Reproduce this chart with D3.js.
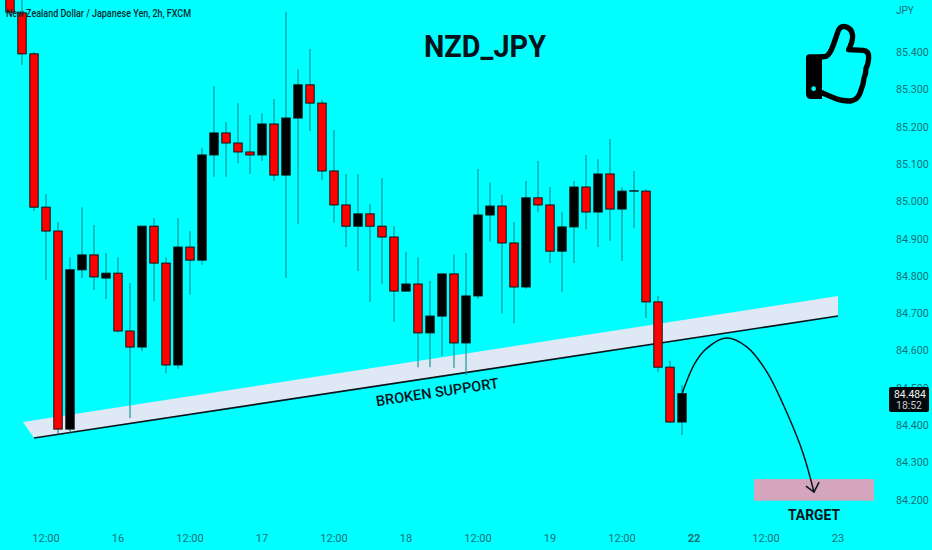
<!DOCTYPE html>
<html><head><meta charset="utf-8">
<script src="https://cdn.jsdelivr.net/npm/d3@7/dist/d3.min.js"></script>
<style>html,body{margin:0;padding:0;background:#00ffff;overflow:hidden}svg{display:block}text{font-family:Roboto,sans-serif}</style>
</head><body><svg id="c" width="932" height="550"></svg>
<script>
const opens=[85.553,85.505,85.395,84.984,84.920,84.389,84.816,84.856,84.794,84.807,84.652,84.609,84.933,84.834,84.561,84.877,84.842,85.124,85.183,85.156,85.132,85.124,85.207,85.070,85.223,85.312,85.263,85.081,84.990,84.933,84.966,84.933,84.904,84.759,84.778,84.647,84.692,84.805,84.620,84.746,84.963,84.987,84.888,84.770,85.009,84.990,84.866,84.931,85.038,84.971,85.073,84.979,85.027,85.027,84.730,84.555,84.408];
const highs=[85.560,85.560,85.400,85.019,84.944,84.850,84.984,84.936,84.861,84.850,84.781,84.933,84.955,84.850,84.955,84.920,85.143,85.309,85.212,85.263,85.231,85.236,85.274,85.507,85.354,85.408,85.271,85.191,85.073,85.073,84.992,85.062,84.933,84.864,84.850,84.786,84.805,84.858,84.861,85.086,85.051,85.017,84.944,85.054,85.108,85.038,84.971,85.054,85.124,85.113,85.167,85.038,85.081,85.033,84.746,84.572,84.507];
const lows=[85.505,85.365,84.974,84.789,84.376,84.379,84.794,84.762,84.738,84.647,84.419,84.598,84.732,84.539,84.550,84.749,84.829,85.065,85.065,85.102,85.073,85.108,85.054,84.794,84.939,85.188,85.057,84.942,84.877,84.813,84.730,84.778,84.676,84.757,84.555,84.555,84.585,84.553,84.534,84.738,84.891,84.698,84.673,84.765,84.971,84.834,84.757,84.834,84.925,84.877,84.893,84.840,84.928,84.687,84.542,84.406,84.373];
const closes=[85.507,85.395,84.984,84.920,84.389,84.816,84.856,84.797,84.807,84.652,84.609,84.933,84.834,84.561,84.877,84.842,85.124,85.183,85.156,85.132,85.124,85.207,85.070,85.223,85.312,85.263,85.081,84.990,84.933,84.966,84.933,84.904,84.759,84.778,84.647,84.692,84.805,84.620,84.746,84.963,84.987,84.888,84.770,85.009,84.990,84.866,84.931,85.038,84.971,85.073,84.979,85.027,85.028,84.730,84.555,84.408,84.484];
const priceTicks=[85.4,85.3,85.2,85.1,85.0,84.9,84.8,84.7,84.6,84.5,84.4,84.3,84.2];
const timeIdx=[3,9,15,21,27,33,39,45,51,57,63,69];
const timeLabels=["12:00","16","12:00","17","12:00","18","12:00","19","12:00","22","12:00","23"];
const bandIdx=[1.08,2,69,69];
const bandPrice=[84.408,84.365,84.692,84.746];
const arcIdx=[56,57.08,58.08,59.67,61.42,63.08,64.75,66.08,67];
const arcPrice=[84.484,84.566,84.606,84.633,84.609,84.542,84.432,84.325,84.220];
const headIdx=[66.33,67,67.42];
const headPrice=[84.236,84.220,84.247];
const targetIdx=[62,72];
const targetPrice=[84.255,84.197];

const svg=d3.select("#c");
const x=d3.scaleLinear().domain([0,69]).range([10,838]);
const y=d3.scaleLinear().domain([85.4,84.2]).range([52,499.6]);
const axisCol="#17707a", ink="#062c30";
const pts=(a,b)=>a.map((v,i)=>[x(v),y(b[i])]);

svg.append("rect").attr("width",932).attr("height",550).attr("fill","#00ffff");

// support band
svg.append("polygon").attr("points",pts(bandIdx,bandPrice).map(p=>p.join(",")).join(" ")).attr("fill","#dfe9f5");
const bp=pts(bandIdx,bandPrice);
svg.append("line").attr("x1",bp[1][0]).attr("y1",bp[1][1]).attr("x2",bp[2][0]).attr("y2",bp[2][1]).attr("stroke","#07141c").attr("stroke-width",1.6);

// target
svg.append("rect").attr("x",x(targetIdx[0])).attr("width",x(targetIdx[1])-x(targetIdx[0]))
  .attr("y",y(targetPrice[0])).attr("height",y(targetPrice[1])-y(targetPrice[0])).attr("fill","#d4a5bd");

// candles
const idx=d3.range(opens.length);
svg.append("g").selectAll("line").data(idx).join("line")
  .attr("x1",i=>x(i)).attr("x2",i=>x(i)).attr("y1",i=>y(highs[i])).attr("y2",i=>y(lows[i]))
  .attr("stroke","#0d8a90").attr("stroke-width",1.1);
svg.append("g").selectAll("rect").data(idx).join("rect")
  .attr("x",i=>x(i)-4.2).attr("width",8.4)
  .attr("y",i=>y(Math.max(opens[i],closes[i])))
  .attr("height",i=>Math.max(0.3,Math.abs(y(opens[i])-y(closes[i]))))
  .attr("fill",i=>closes[i]>=opens[i]?"#000000":"#ff0000")
  .attr("stroke","#141414").attr("stroke-width",1);

// arc + arrow
svg.append("path").attr("d",d3.line().curve(d3.curveCatmullRom)(pts(arcIdx,arcPrice)))
  .attr("fill","none").attr("stroke","#07141c").attr("stroke-width",1.5);
svg.append("path").attr("d",d3.line()(pts(headIdx,headPrice)))
  .attr("fill","none").attr("stroke","#07141c").attr("stroke-width",1.5);

// price axis
svg.append("g").selectAll("text").data(priceTicks).join("text")
  .attr("x",896).attr("y",d=>y(d)+4).attr("font-size",10.7).attr("fill",axisCol)
  .text(d=>d.toFixed(3));
svg.append("text").attr("x",896).attr("y",14).attr("font-size",10).attr("fill",axisCol).text("JPY");

// badge
svg.append("rect").attr("x",889).attr("y",387).attr("width",40).attr("height",25).attr("rx",2).attr("fill","#02090c");
svg.append("text").attr("x",910).attr("y",398).attr("text-anchor","middle").attr("font-size",10.4).attr("fill","#f2f2f2").text("84.484");
svg.append("text").attr("x",909).attr("y",409).attr("text-anchor","middle").attr("font-size",10.4).attr("fill","#c8c8c8").text("18:52");

// time axis
svg.append("g").selectAll("text").data(timeIdx).join("text")
  .attr("x",d=>x(d)).attr("y",542).attr("text-anchor","middle").attr("font-size",11)
  .attr("font-weight",(d,i)=>timeLabels[i]==="22"?700:400)
  .attr("fill",axisCol).text((d,i)=>timeLabels[i]);

// annotations
svg.append("text").attr("x",6).attr("y",17).attr("font-size",10).attr("font-weight",500).attr("fill",ink)
  .attr("textLength",185).attr("lengthAdjust","spacingAndGlyphs")
  .text("New Zealand Dollar / Japanese Yen, 2h, FXCM");
svg.append("text").attr("x",424).attr("y",57).attr("font-size",32).attr("font-weight",700).attr("fill","#06141a")
  .attr("textLength",122).attr("lengthAdjust","spacingAndGlyphs").text("NZD_JPY");
svg.append("text").attr("transform","translate(438,397) rotate(-8.5)").attr("text-anchor","middle").attr("font-size",14.5).attr("font-weight",500).attr("fill","#06141a").text("BROKEN SUPPORT");
svg.append("text").attr("x",788).attr("y",520).attr("font-size",15).attr("font-weight",700).attr("fill","#06141a")
  .attr("textLength",52).attr("lengthAdjust","spacingAndGlyphs").text("TARGET");

// thumbs-up icon
const t=svg.append("g").attr("transform","translate(800,15) scale(0.3333)");
t.append("path").attr("d","M28 118H66V252H34Q18 252 18 236V130Q18 118 28 118Z").attr("fill","#000");
t.append("circle").attr("cx",41).attr("cy",221).attr("r",7).attr("fill","#00ffff");
t.append("path").attr("d","M62 126L78 124Q90 118 100 90L113 52Q118 34 132 34Q156 38 158 62Q158 80 146 104L190 106Q208 108 206 130Q204 150 198 160Q198 178 192 190Q190 210 184 222Q176 256 150 258Q120 258 100 248L62 232")
  .attr("fill","none").attr("stroke","#000").attr("stroke-width",16).attr("stroke-linejoin","round");
</script></body></html>
